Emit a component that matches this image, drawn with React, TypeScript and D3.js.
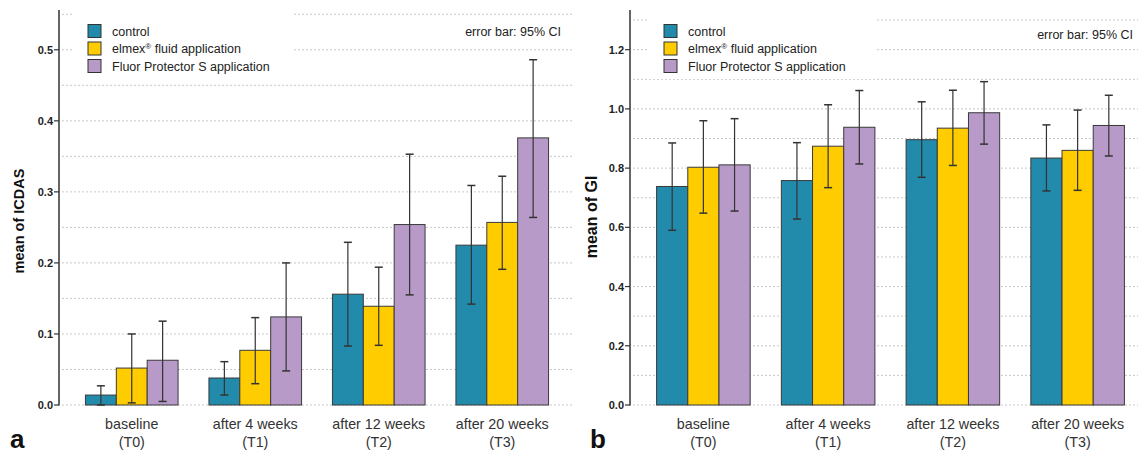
import * as d3 from "d3";

const width = 1138;
const height = 454;
const font = "'Liberation Sans', Arial, sans-serif";

const categories = ["baseline", "after 4 weeks", "after 12 weeks", "after 20 weeks"];
const categorySub = ["(T0)", "(T1)", "(T2)", "(T3)"];
const groups = ["control", "elmex", "fps"];
const groupColors = ["#228aab", "#ffcc00", "#b89ac9"];

// ICDAS (panel a)
const icdasControl = [0.014, 0.038, 0.156, 0.225];
const icdasControlLo = [0.0, 0.014, 0.083, 0.142];
const icdasControlHi = [0.027, 0.061, 0.229, 0.309];
const icdasElmex = [0.052, 0.077, 0.139, 0.257];
const icdasElmexLo = [0.003, 0.03, 0.084, 0.191];
const icdasElmexHi = [0.1, 0.123, 0.194, 0.322];
const icdasFps = [0.063, 0.124, 0.254, 0.376];
const icdasFpsLo = [0.005, 0.048, 0.155, 0.264];
const icdasFpsHi = [0.118, 0.2, 0.353, 0.486];

// GI (panel b)
const giControl = [0.738, 0.758, 0.896, 0.834];
const giControlLo = [0.59, 0.628, 0.769, 0.723];
const giControlHi = [0.885, 0.886, 1.024, 0.946];
const giElmex = [0.803, 0.874, 0.935, 0.86];
const giElmexLo = [0.648, 0.734, 0.809, 0.725];
const giElmexHi = [0.96, 1.014, 1.063, 0.996];
const giFps = [0.811, 0.938, 0.987, 0.944];
const giFpsLo = [0.655, 0.814, 0.881, 0.841];
const giFpsHi = [0.967, 1.062, 1.092, 1.046];

const icdasTicks = [0, 0.1, 0.2, 0.3, 0.4, 0.5];
const icdasGrid = [0, 0.05, 0.1, 0.15, 0.2, 0.25, 0.3, 0.35, 0.4, 0.45, 0.5, 0.55];
const giTicks = [0, 0.2, 0.4, 0.6, 0.8, 1.0, 1.2];
const giGrid = [0, 0.1, 0.2, 0.3, 0.4, 0.5, 0.6, 0.7, 0.8, 0.9, 1.0, 1.1, 1.2, 1.3];

type Series = { mean: number[]; lo: number[]; hi: number[] };

type PanelProps = {
  series: Series[];
  yMax: number;
  ticks: number[];
  grid: number[];
  axisX: number;
  xRange: [number, number];
  gridEnd: number;
  legendX: number;
  legendBoxW: number;
  title: string;
  titleX: number;
  titleY: number;
  titleSize: number;
  letter: string;
  letterX: number;
  noteX: number;
  noteY: number;
};

const Panel = (p: PanelProps) => {
  const y = d3.scaleLinear().domain([0, p.yMax]).range([405, 10]);
  const x0 = d3.scaleBand<string>().domain(categories).range(p.xRange).paddingInner(0.25).paddingOuter(0.125);
  const x1 = d3.scaleBand<string>().domain(groups).range([0, x0.bandwidth()]);
  const fmt = d3.format(".1f");
  const bw = x1.bandwidth();

  return (
    <g fontFamily={font}>
      {p.grid.map(v => (
        <line key={v} x1={p.axisX + 3} x2={p.gridEnd} y1={y(v)} y2={y(v)}
          stroke="#c8c8c8" strokeWidth={1} strokeDasharray="2,2" />
      ))}
      {/* legend box hides the grid behind it */}
      <rect x={p.legendX - 15} y={11} width={p.legendBoxW} height={68} fill="#fff" />
      {groups.map((g, gi) => (
        <g key={g}>
          <rect x={p.legendX} y={24.5 + gi * 17.5} width={13} height={13}
            fill={groupColors[gi]} stroke="#333" strokeWidth={1} />
          <text x={p.legendX + 24} y={35.5 + gi * 17.5} fontSize={12.5} fill="#222">
            {gi === 0 && "control"}
            {gi === 1 && (<>elmex<tspan fontSize={8} dy={-4}>®</tspan><tspan dy={4}> fluid application</tspan></>)}
            {gi === 2 && "Fluor Protector S application"}
          </text>
        </g>
      ))}
      <text x={p.noteX} y={p.noteY} fontSize={12.5} fill="#222" textAnchor="end">error bar: 95% CI</text>

      {categories.map((c, ci) => (
        <g key={c} transform={`translate(${x0(c)},0)`}>
          {p.series.map((s, si) => {
            const bx = x1(groups[si]) as number;
            const cx = bx + bw / 2;
            return (
              <g key={si}>
                <rect x={bx} y={y(s.mean[ci])} width={bw} height={y(0) - y(s.mean[ci])}
                  fill={groupColors[si]} stroke="#3a3a3a" strokeWidth={1} />
                <line x1={cx} x2={cx} y1={y(s.lo[ci])} y2={y(s.hi[ci])} stroke="#333" strokeWidth={1.2} />
                <line x1={cx - 4} x2={cx + 4} y1={y(s.hi[ci])} y2={y(s.hi[ci])} stroke="#333" strokeWidth={1.5} />
                <line x1={cx - 4} x2={cx + 4} y1={y(s.lo[ci])} y2={y(s.lo[ci])} stroke="#333" strokeWidth={1.5} />
              </g>
            );
          })}
          <text x={x0.bandwidth() / 2} y={429} fontSize={14.3} fill="#333" textAnchor="middle">{c}</text>
          <text x={x0.bandwidth() / 2} y={447} fontSize={14.3} fill="#333" textAnchor="middle">{categorySub[ci]}</text>
        </g>
      ))}

      <line x1={p.axisX} x2={p.axisX} y1={10} y2={405.5} stroke="#333" strokeWidth={1.5} />
      {p.ticks.map(v => (
        <g key={v}>
          <line x1={p.axisX - 5} x2={p.axisX} y1={y(v)} y2={y(v)} stroke="#333" strokeWidth={1.2} />
          <text x={p.axisX - 6} y={y(v) + 4} fontSize={11} fontWeight="bold" fill="#222" textAnchor="end">{fmt(v)}</text>
        </g>
      ))}
      <text transform={`translate(${p.titleX},${p.titleY}) rotate(-90)`} fontSize={p.titleSize} fontWeight="bold"
        fill="#111" textAnchor="middle" dy="0.35em">{p.title}</text>
      <text x={p.letterX} y={448} fontSize={26} fontWeight="bold" fill="#111">{p.letter}</text>
    </g>
  );
};

const App = () => {
  const icdas: Series[] = [
    { mean: icdasControl, lo: icdasControlLo, hi: icdasControlHi },
    { mean: icdasElmex, lo: icdasElmexLo, hi: icdasElmexHi },
    { mean: icdasFps, lo: icdasFpsLo, hi: icdasFpsHi },
  ];
  const gi: Series[] = [
    { mean: giControl, lo: giControlLo, hi: giControlHi },
    { mean: giElmex, lo: giElmexLo, hi: giElmexHi },
    { mean: giFps, lo: giFpsLo, hi: giFpsHi },
  ];
  return (
    <svg width={width} height={height} viewBox={`0 0 ${width} ${height}`}
      style={{ position: "absolute", left: 0, top: 0, background: "#fff" }}>
      <Panel series={icdas} yMax={0.556} ticks={icdasTicks} grid={icdasGrid} axisX={59}
        xRange={[70, 564]} gridEnd={574} legendX={88} legendBoxW={220}
        title="mean of ICDAS" titleX={19} titleY={221} titleSize={14.5} letter="a" letterX={10}
        noteX={561} noteY={36} />
      <Panel series={gi} yMax={1.334} ticks={giTicks} grid={giGrid} axisX={630}
        xRange={[641, 1140]} gridEnd={1138} legendX={664} legendBoxW={228}
        title="mean of GI" titleX={591} titleY={217} titleSize={16} letter="b" letterX={590}
        noteX={1133} noteY={39} />
    </svg>
  );
};

export default App;
